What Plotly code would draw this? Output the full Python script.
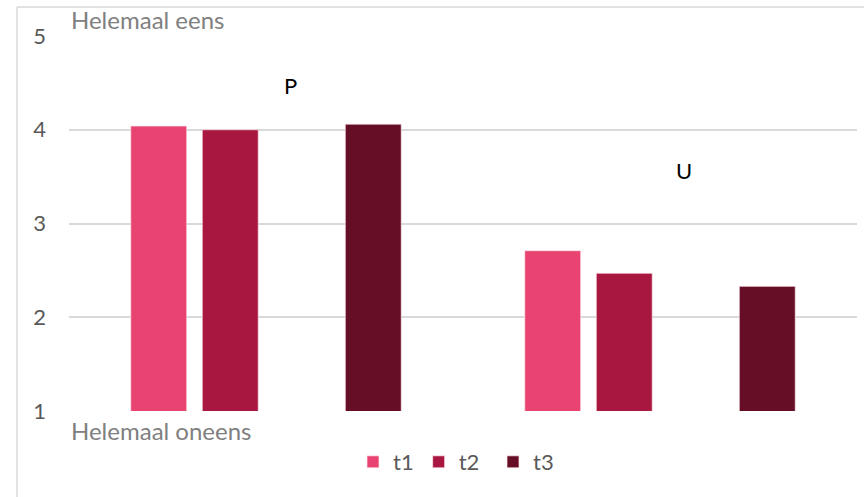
import plotly.graph_objects as go

# Data
categories = ["P", "U"]
series_names = ["t1", "t2", "", "t3"]
t1_values = [4.04, 2.71]
t2_values = [4.00, 2.47]
blank_values = [None, None]
t3_values = [4.06, 2.33]
series_values = [t1_values, t2_values, blank_values, t3_values]
series_colors = ["#E84371", "#A8173F", "rgba(0,0,0,0)", "#660E25"]
series_legends = ["legend", "legend", None, "legend2"]
y_ticks = [1, 2, 3, 4, 5]

W, H = 864, 497
FONT = "Lato"

fig = go.Figure()
for name, vals, col, lg in zip(series_names, series_values, series_colors, series_legends):
    fig.add_trace(go.Bar(
        x=categories, y=vals, name=name,
        marker=dict(color=col,
                    line=dict(color="rgba(255,235,240,0.7)" if lg else "rgba(0,0,0,0)",
                              width=1)),
        showlegend=lg is not None,
        legend=lg or "legend",
        hoverinfo=None if lg else "skip",
    ))

# Category letters placed above each group
label_y = [4.47, 3.57]
for cat, ly in zip(categories, label_y):
    fig.add_annotation(x=cat, y=ly, xref="x", yref="y", text=cat, showarrow=False,
                       xshift=24, font=dict(family=FONT, size=22, color="#000000"))

# Scale end labels
fig.add_annotation(x=0, y=5, xref="paper", yref="y", text="Helemaal eens",
                   showarrow=False, xanchor="left", yanchor="bottom", yshift=0,
                   font=dict(family=FONT, size=24, color="#808080"))
fig.add_annotation(x=0, y=1, xref="paper", yref="y", text="Helemaal oneens",
                   showarrow=False, xanchor="left", yanchor="top", yshift=-3,
                   font=dict(family=FONT, size=24, color="#808080"))

# Chart frame (top and left edges)
fig.add_shape(type="line", xref="paper", yref="paper",
              x0=(17 - 69) / 788, x1=(864 - 69) / 788,
              y0=(411 - 7) / 375, y1=(411 - 7) / 375,
              line=dict(color="#D9D9D9", width=1.5))
fig.add_shape(type="line", xref="paper", yref="paper",
              x0=(17 - 69) / 788, x1=(17 - 69) / 788,
              y0=(411 - 7) / 375, y1=(411 - 497) / 375,
              line=dict(color="#D9D9D9", width=1.5))

legend_style = dict(orientation="h", xanchor="left",
                    y=(411 - 462) / 375, yanchor="middle",
                    font=dict(family=FONT, size=22, color="#595959"),
                    itemclick=False, itemdoubleclick=False, traceorder="normal")

fig.update_layout(
    width=W, height=H,
    margin=dict(l=69, r=7, t=36, b=86),
    paper_bgcolor="white", plot_bgcolor="white",
    barmode="group", bargap=0.274, bargroupgap=0.217,
    font=dict(family=FONT, color="#595959"),
    showlegend=True,
    legend=dict(x=(353 - 69) / 788, **legend_style),
    legend2=dict(x=(493 - 69) / 788, **legend_style),
    xaxis=dict(showticklabels=False, showgrid=False, zeroline=False, showline=False,
               ticks=""),
    yaxis=dict(range=[1, 5], tickvals=y_ticks, showgrid=True, gridcolor="#D9D9D9",
               gridwidth=1.5, zeroline=False, showline=False, ticks="",
               ticklabelstandoff=22,
               tickfont=dict(family=FONT, size=22, color="#595959")),
)

fig.write_html("out.html")
